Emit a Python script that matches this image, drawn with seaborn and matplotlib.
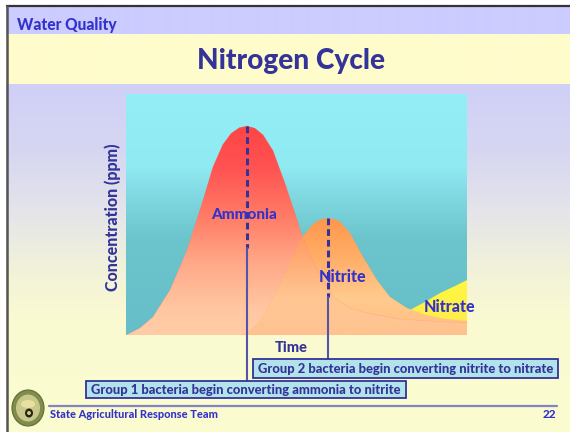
import numpy as np
import pandas as pd
import matplotlib
matplotlib.use("Agg")
import matplotlib.pyplot as plt
import seaborn as sns
from matplotlib.colors import to_rgb
from matplotlib.patches import Rectangle, Ellipse

# ---------------- data ----------------
ammonia_time = [0, 1.2, 4.1, 7.9, 12.9, 17.9, 22.6, 25.5, 28.4, 30.8, 33.2, 35.5, 37.8,
                40.2, 43.1, 46.6, 49.9, 51.9, 55.4, 60.7, 65.7, 70.7, 80.4, 89.1, 100]
ammonia_conc = [0, 0.8, 2.9, 7.5, 18.7, 35.3, 56.0, 69.7, 79.0, 83.6, 86.0, 86.7, 85.8,
                83.0, 76.5, 63.0, 49.0, 40.0, 29.0, 15.8, 11.2, 9.1, 6.6, 5.8, 5.0]

nitrite_time = [33.4, 35.5, 39.3, 44.3, 48.1, 51.0, 54.8, 57.0, 59.2, 61.2, 62.8, 65.7,
                69.5, 73.6, 77.4, 82.4, 87.7, 93.5, 100]
nitrite_conc = [0, 0.8, 5.4, 18.7, 30.3, 39.4, 46.0, 47.9, 48.5, 48.0, 46.9, 42.3,
                32.4, 22.8, 15.8, 11.2, 8.3, 6.6, 5.8]

nitrate_time = [62.8, 74.5, 80.4, 83.3, 87.7, 92.1, 96.5, 100]
nitrate_conc = [0, 2.9, 6.2, 10.4, 13.7, 17.4, 20.3, 22.8]

series_names = ["Ammonia", "Nitrite", "Nitrate"]
label_pos_time = [34.6, 63.6, 94.9]
label_pos_conc = [49.8, 24.1, 11.6]

header_text = "Water Quality"
title_text = "Nitrogen Cycle"
x_label = "Time"
y_label = "Concentration (ppm)"
note_group1 = "Group 1 bacteria begin converting ammonia to nitrite"
note_group2 = "Group 2 bacteria begin converting nitrite to nitrate"
footer_text = "State Agricultural Response Team"
page_number = "22"

# ---------------- style ----------------
sns.set_theme(style="white")
plt.rcParams["font.family"] = ["Lato", "Liberation Sans", "DejaVu Sans"]
WT = "black"
NAVY = "#333399"
BLUE = "#3333CC"

W, H = 570, 432
fig = plt.figure(figsize=(W / 100, H / 100), dpi=100)


def vgrad(stops, n=432):
    """stops: list of (pos 0..1, color); returns (n,1,3) array top->bottom"""
    pos = np.linspace(0, 1, n)
    ps = [s[0] for s in stops]
    cols = np.array([to_rgb(s[1]) for s in stops])
    img = np.stack([np.interp(pos, ps, cols[:, k]) for k in range(3)], axis=-1)
    return img[:, None, :]


# ---------------- page background ----------------
bg = fig.add_axes([0, 0, 1, 1])
bg.set_zorder(0)
bg.axis("off")
page_stops = [(0, "#CCCCFF"), (34 / H, "#CCCCFF"), (34.01 / H, "#FFFCCC"), (84 / H, "#FFFCCC"),
              (84.01 / H, "#D0D0F8"), (150 / H, "#D6D6F2"), (210 / H, "#E4E4EA"),
              (270 / H, "#F2F2DA"), (320 / H, "#FAFAD2"), (1, "#FCFCD0")]
bg.imshow(vgrad(page_stops), extent=(0, W, H, 0), aspect="auto", interpolation="bilinear")
bg.add_patch(Rectangle((0, 0), W, 5, color="white", lw=0))
bg.add_patch(Rectangle((0, 0), 6, H, color="white", lw=0))
bg.plot([6, W], [5.8, 5.8], color="#333333", lw=1.6, solid_capstyle="butt")
bg.plot([7, 7], [5, H], color="#555555", lw=1.8, solid_capstyle="butt")
bg.set_xlim(0, W)
bg.set_ylim(H, 0)

# ---------------- chart ----------------
L, R, T, B = 126, 467, 94, 335
ax = fig.add_axes([L / W, (H - B) / H, (R - L) / W, (B - T) / H])
ax.set_zorder(1)

chart_stops = [(0, "#93EEF6"), (0.30, "#90EAF2"), (0.45, "#7DD5DE"), (0.60, "#6CC4CD"), (1, "#66BEC8")]
ax.imshow(vgrad(chart_stops, 256), extent=(0, 100, 0, 100), aspect="auto", zorder=0,
          interpolation="bilinear")


def grad_fill(x, y, stops, alpha, z):
    poly = ax.fill_between(x, y, 0, color="none", lw=0, zorder=z)
    im = ax.imshow(vgrad(stops, 256), extent=(0, 100, 0, 100), aspect="auto", alpha=alpha,
                   zorder=z, interpolation="bilinear")
    im.set_clip_path(poly.get_paths()[0], ax.transData)


ammonia_stops = [(0, "#FF4040"), (0.15, "#FF4646"), (0.30, "#FF5252"), (0.50, "#FF7A64"),
                 (0.70, "#FFA888"), (0.90, "#FFC8A2"), (1, "#FFCCA6")]
nitrite_stops = [(0, "#FF9448"), (0.50, "#FF9448"), (0.68, "#FFAE68"), (0.85, "#FFCB8E"),
                 (1, "#FFBC82")]

grad_fill(nitrate_time, nitrate_conc, [(0, "#FFF640"), (0.8, "#FFF640"), (1, "#FFEA50")], 1.0, 2)
grad_fill(ammonia_time, ammonia_conc, ammonia_stops, 1.0, 3)
grad_fill(nitrite_time, nitrite_conc, nitrite_stops, 1.0, 4)
grad_fill(ammonia_time, ammonia_conc, ammonia_stops, 0.4, 4.5)

df = pd.concat([
    pd.DataFrame({"time": ammonia_time, "conc": ammonia_conc, "series": "Ammonia"}),
    pd.DataFrame({"time": nitrite_time, "conc": nitrite_conc, "series": "Nitrite"}),
    pd.DataFrame({"time": nitrate_time, "conc": nitrate_conc, "series": "Nitrate"}),
])
sns.lineplot(data=df, x="time", y="conc", hue="series", sort=False, estimator=None,
             palette={"Ammonia": "#FF6A5A", "Nitrite": "#FFA060", "Nitrate": "#FFF040"},
             lw=0.5, alpha=0.2, legend=False, ax=ax, zorder=5)

ax.set_xlim(0, 100)
ax.set_ylim(0, 100)
ax.axis("off")

# peak markers
i_a = int(np.argmax(ammonia_conc))
i_n = int(np.argmax(nitrite_conc))
xa, ya = ammonia_time[i_a], ammonia_conc[i_a]
xn, yn = nitrite_time[i_n], nitrite_conc[i_n]
ax.plot([xa, xa], [ya, 36.1], color=NAVY, lw=2.2, ls=(0, (2.2, 1.3)), zorder=6)
ax.plot([xa, xa], [36.1, -19.1], color="#5555A8", lw=1.5, zorder=6, clip_on=False)
ax.plot([xn, xn], [yn, 15.8], color=NAVY, lw=2.2, ls=(0, (2.2, 1.3)), zorder=6)
ax.plot([xn, xn], [15.8, -10.0], color="#5555A8", lw=1.5, zorder=6, clip_on=False)

label_sizes = [11, 11.5, 11.5]
for name, tx, ty, fs in zip(series_names, label_pos_time, label_pos_conc, label_sizes):
    ax.text(tx, ty, name, color=BLUE, fontsize=fs, fontweight=WT, ha="center",
            va="center", zorder=7, clip_on=False)

# ---------------- overlay (texts, boxes) ----------------
ov = fig.add_axes([0, 0, 1, 1])
ov.set_zorder(2)
ov.patch.set_alpha(0)
ov.set_xlim(0, W)
ov.set_ylim(H, 0)
ov.axis("off")

ov.text(17, 25, header_text, color=BLUE, fontsize=11.2, fontweight=WT, ha="left", va="center")
ov.text(291, 61, title_text, color=NAVY, fontsize=20.2, fontweight=WT, ha="center", va="center")
ov.text(113, 217, y_label, color=NAVY, fontsize=11.5, fontweight=WT, rotation=90,
        ha="center", va="center")
ov.text(291, 348, x_label, color=NAVY, fontsize=10.5, fontweight=WT, ha="center", va="center")

for (x0, x1, y0, y1, txt) in [(253, 558, 359, 378, note_group2), (86, 406, 381, 398, note_group1)]:
    ov.add_patch(Rectangle((x0, y0), x1 - x0, y1 - y0, facecolor="#B2E2EA", edgecolor=NAVY, lw=1.3))
    ov.text((x0 + x1) / 2, (y0 + y1) / 2 + 0.5, txt, color=NAVY, fontsize=9.4, fontweight=WT,
            ha="center", va="center")

ov.plot([49, 557], [406, 406], color="#8484C4", lw=1.6)
ov.text(50, 415, footer_text, color=BLUE, fontsize=7.9, fontweight=WT, ha="left", va="center")
ov.text(556, 415, page_number, color=BLUE, fontsize=8.5, fontweight=WT, ha="right", va="center")

# logo
ov.add_patch(Ellipse((28, 408), 32, 36, facecolor="#7F8C4C", edgecolor="#5F6A38", lw=0.8))
ov.add_patch(Ellipse((28, 408), 24, 27, facecolor="#C8C88A", edgecolor="none"))
ov.add_patch(Ellipse((28, 404), 14, 8, facecolor="#E8E0A0", edgecolor="none"))
ov.add_patch(Ellipse((29, 413), 8, 9, facecolor="#222222", edgecolor="none"))
ov.add_patch(Ellipse((29, 413), 4, 4, facecolor="#D8C860", edgecolor="none"))

fig.savefig("out.png", dpi=100)
